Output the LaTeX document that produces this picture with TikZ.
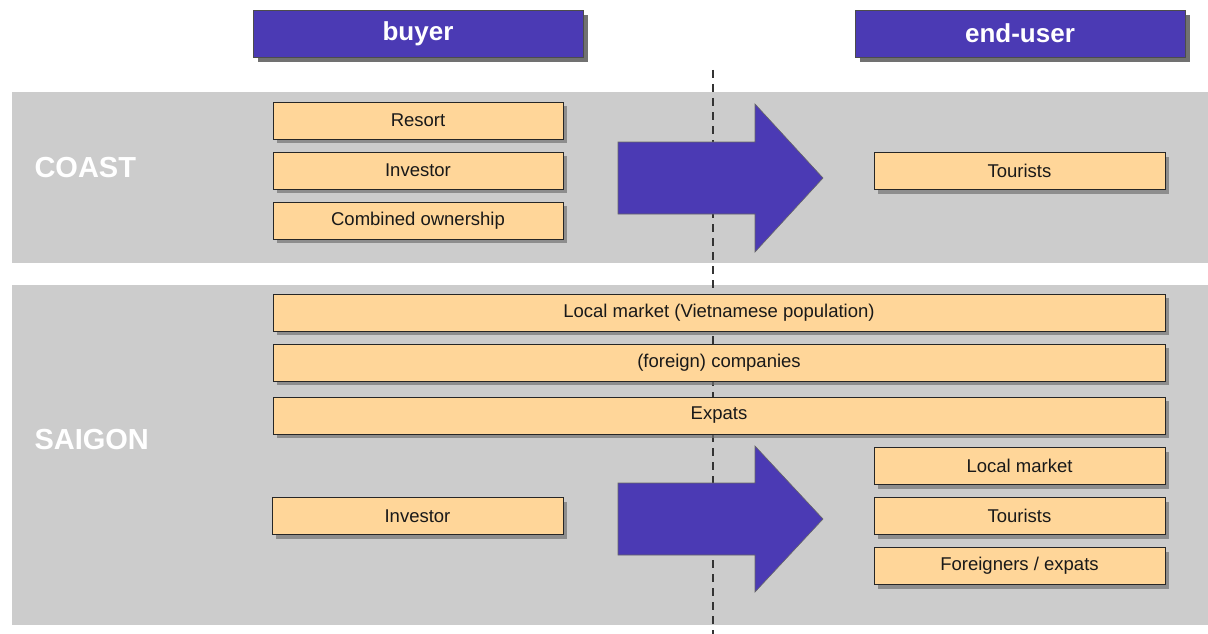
\documentclass[tikz,border=0pt]{standalone}
\usepackage{fontspec}
\setmainfont{Liberation Sans}
\usetikzlibrary{shadows}
\definecolor{headblue}{HTML}{4B3AB4}
\definecolor{boxorange}{HTML}{FFD699}
\definecolor{bandgray}{HTML}{CCCCCC}
\tikzset{
  band/.style={fill=bandgray, draw=none},
  header/.style={fill=headblue, draw=black!70, line width=0.8pt, text=white,
    font=\fontsize{26}{30}\selectfont\bfseries, minimum width=330, minimum height=47,
    drop shadow={shadow xshift=5pt, shadow yshift=-5pt, fill=black!65, opacity=0.85}},
  ob/.style={fill=boxorange, draw=black!85, line width=0.9pt, text=black!90,
    font=\fontsize{18.5}{21}\selectfont, minimum height=37, inner sep=0pt,
    drop shadow={shadow xshift=4pt, shadow yshift=-4pt, fill=black!55, opacity=0.7}},
  region/.style={text=white, font=\fontsize{29}{32}\selectfont\bfseries, anchor=west},
  bigarrow/.style={fill=headblue, draw=black!60, line width=0.6pt},
  divider/.style={dashed, dash pattern=on 8pt off 6pt, line width=1.6pt, black!80}
}
\begin{document}
\begin{tikzpicture}[x=1pt,y=-1pt]
\useasboundingbox (0,0) rectangle (1208,634);
\fill[white] (0,0) rectangle (1208,634);

% background bands
\fill[band] (12,92) rectangle (1208,263);
\fill[band] (12,285) rectangle (1208,625);

% vertical divider
\coordinate (dtop) at (713,70);
\coordinate (dbot) at (713,634);
\draw[divider] (dtop) -- (dbot);

% column headers
\node[header] (buyer) at (418,33.5) {buyer};
\node[header] (enduser) at (1020,33.5) {end-user};

% region labels
\node[region] (coast) at (31,168) {COAST};
\node[region] (saigon) at (31,440) {SAIGON};

% COAST: buyers
\node[ob, minimum width=290] (resort) at (418,120.5) {Resort};
\node[ob, minimum width=290] (inv1) at (418,170.5) {Investor};
\node[ob, minimum width=290] (comb) at (418,220.5) {Combined ownership};

% COAST: end users
\node[ob, minimum width=291] (tour1) at (1019.5,171) {Tourists};

% COAST arrow
\draw[bigarrow] (618,142) -- (755,142) -- (755,104) -- (823,178) -- (755,252)
  -- (755,214) -- (618,214) -- cycle;

% SAIGON: wide rows
\node[ob, minimum width=892] (local) at (719,312.5) {Local market (Vietnamese population)};
\node[ob, minimum width=892] (comp) at (719,362.5) {(foreign) companies};
\node[ob, minimum width=892] (expats) at (719,415.5) {Expats};

% SAIGON: buyer
\node[ob, minimum width=291] (inv2) at (417.5,516) {Investor};

% SAIGON: end users
\node[ob, minimum width=291] (lm) at (1019.5,466) {Local market};
\node[ob, minimum width=291] (tour2) at (1019.5,516) {Tourists};
\node[ob, minimum width=291] (forex) at (1019.5,566) {Foreigners / expats};

% SAIGON arrow
\draw[bigarrow] (618,483) -- (755,483) -- (755,446) -- (823,519) -- (755,592)
  -- (755,555) -- (618,555) -- cycle;
\end{tikzpicture}
\end{document}
